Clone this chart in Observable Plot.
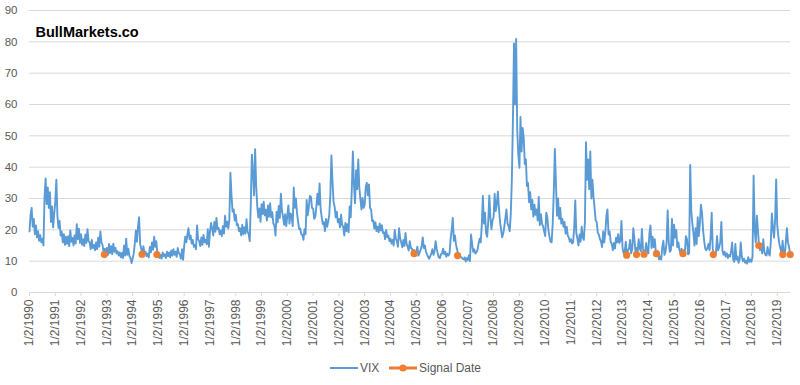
<!DOCTYPE html>
<html>
<head>
<meta charset="utf-8">
<script src="https://cdn.jsdelivr.net/npm/d3@7"></script>
<script src="https://cdn.jsdelivr.net/npm/@observablehq/plot@0.6"></script>
<style>
  body { margin: 0; background: #fff; }
  #chart { width: 800px; }
  svg text { font-family: "Liberation Sans", Arial, sans-serif; }
</style>
</head>
<body>
<div id="chart"></div>
<script>
// VIX, two readings per month (semi-monthly)
const years = d3.range(1990, 2020);
const v1990 = [19.5,24.8, 27.0,21.0, 23.5,18.6, 21.4,17.6, 19.6,16.5, 18.3,16.0, 17.2,15.0, 30.5,36.4, 28.2,33.5, 27.0,32.0, 22.5,27.5, 20.8,25.0];
const v1991 = [28.8,36.0, 24.5,20.6, 22.8,18.2, 19.5,16.0, 18.6,15.2, 17.8,15.5, 18.0,14.8, 19.8,16.2, 17.4,15.0, 18.2,15.6, 21.8,17.0, 20.4,15.8];
const v1992 = [18.6,15.2, 17.0,14.8, 18.5,15.8, 20.2,16.4, 16.0,13.8, 16.8,14.2, 15.2,13.5, 16.0,13.8, 17.5,14.6, 19.5,16.0, 15.2,12.8, 14.0,12.2];
const v1993 = [14.2,12.0, 15.5,12.6, 14.8,12.2, 15.6,13.0, 14.2,12.4, 13.2,11.8, 12.8,11.2, 12.6,11.0, 15.0,11.8, 17.2,12.0, 14.0,11.6, 11.0,9.4];
const v1994 = [10.8,12.4, 15.5,19.8, 16.2,21.0, 24.0,15.4, 14.0,12.2, 14.8,12.6, 13.0,11.6, 12.4,11.2, 14.5,12.8, 16.0,13.6, 17.8,14.6, 16.4,12.6];
const v1995 = [12.4,11.0, 12.0,10.8, 12.8,11.6, 12.2,11.0, 13.0,11.6, 12.8,11.2, 13.4,11.8, 13.8,12.0, 13.0,11.4, 14.2,12.6, 12.2,10.8, 13.8,10.4];
const v1996 = [14.8,17.8, 16.0,18.5, 20.5,17.0, 18.2,15.6, 16.8,14.6, 15.2,13.8, 21.4,17.0, 16.4,14.8, 17.6,15.2, 18.4,16.0, 16.8,15.4, 20.2,14.6];
const v1997 = [19.5,22.2, 20.4,18.2, 22.5,19.4, 23.8,20.2, 20.6,18.6, 19.8,18.0, 21.2,18.8, 24.5,21.0, 22.6,20.4, 23.2,38.2, 31.0,25.8, 26.5,23.0];
const v1998 = [24.8,21.5, 21.8,19.6, 20.5,18.2, 21.6,18.6, 20.8,18.8, 23.4,19.4, 18.6,16.4, 28.5,44.0, 38.5,31.0, 45.7,34.0, 27.5,24.0, 26.8,22.6];
const v1999 = [28.2,25.0, 29.0,24.6, 26.4,23.0, 27.8,24.2, 28.5,24.0, 25.6,22.0, 21.4,18.2, 25.8,22.4, 27.6,23.8, 31.5,26.0, 24.2,21.6, 25.0,21.2];
const v2000 = [24.5,27.8, 22.0,25.2, 24.5,21.2, 33.5,27.0, 30.0,25.4, 22.8,20.2, 20.4,18.6, 18.4,16.8, 20.2,18.6, 29.5,24.6, 27.2,30.8, 30.5,27.0];
const v2001 = [26.8,23.5, 24.2,27.5, 31.5,28.0, 34.8,26.5, 24.0,21.8, 22.4,19.6, 23.5,21.0, 22.6,24.8, 31.0,43.7, 35.5,29.0, 27.4,24.0, 25.8,22.4];
const v2002 = [23.5,20.8, 24.8,21.6, 21.0,18.2, 22.2,19.6, 21.8,19.2, 27.5,24.0, 33.0,45.0, 34.5,28.5, 39.0,33.0, 42.5,33.5, 29.8,26.5, 30.2,27.0];
const v2003 = [28.0,33.5, 35.0,31.0, 34.5,27.0, 26.5,22.8, 23.0,20.4, 22.4,19.6, 21.0,19.2, 22.0,19.8, 21.5,19.0, 19.2,17.0, 20.0,17.6, 18.2,16.4];
const v2004 = [17.2,15.6, 16.8,15.0, 20.0,17.2, 16.4,14.6, 20.5,17.4, 16.0,14.4, 16.8,14.8, 19.0,15.6, 14.6,13.4, 16.4,14.2, 14.0,12.8, 13.6,12.2];
const v2005 = [12.8,14.6, 11.8,12.6, 13.6,14.8, 17.6,14.2, 15.0,13.0, 12.2,11.4, 10.8,11.6, 12.4,13.8, 12.0,13.2, 16.4,14.0, 12.4,11.2, 11.0,12.2];
const v2006 = [12.4,14.0, 12.2,13.0, 11.4,12.4, 11.8,12.6, 17.2,20.0, 23.8,16.5, 18.2,15.2, 13.8,12.0, 12.4,11.4, 11.2,10.8, 10.6,11.2, 9.9,11.0];
const v2007 = [10.4,11.8, 10.0,18.5, 15.5,13.0, 13.8,12.4, 12.8,13.6, 15.6,17.2, 16.0,21.5, 30.8,22.0, 25.5,19.0, 17.8,22.5, 31.0,24.0, 20.2,23.0];
const v2008 = [24.0,31.5, 26.0,28.4, 32.2,26.8, 22.5,20.0, 17.6,18.8, 21.0,23.8, 26.5,22.0, 21.2,19.5, 25.0,36.0, 55.0,79.5, 60.0,80.9, 52.0,44.0];
const v2009 = [39.8,56.0, 45.0,52.5, 49.5,41.0, 42.5,34.0, 35.0,28.8, 32.0,26.5, 29.5,24.2, 28.0,24.8, 26.5,23.0, 30.5,21.5, 25.0,22.0, 21.2,19.5];
const v2010 = [18.0,25.5, 24.0,20.0, 17.8,16.2, 16.0,22.0, 32.0,45.8, 35.0,24.5, 30.0,23.5, 27.0,22.0, 23.5,21.0, 22.5,18.8, 21.0,18.2, 17.5,16.2];
const v2011 = [17.0,15.6, 16.0,20.5, 29.4,19.0, 17.2,15.0, 18.5,16.2, 21.0,17.5, 16.8,22.5, 48.0,36.0, 42.5,33.0, 45.0,30.0, 36.0,30.5, 27.0,23.0];
const v2012 = [22.5,19.0, 18.5,17.0, 16.2,14.5, 19.5,16.0, 19.0,24.5, 26.5,18.5, 19.5,16.2, 15.5,13.5, 15.8,14.0, 17.5,16.0, 18.6,15.8, 16.5,22.8];
const v2013 = [14.2,12.5, 13.0,16.2, 12.0,13.5, 14.0,16.8, 12.5,13.8, 20.5,17.0, 13.0,14.2, 12.8,17.0, 14.0,13.2, 20.3,14.0, 12.2,13.0, 15.8,13.2];
const v2014 = [12.5,18.8, 21.4,14.2, 17.8,14.5, 17.0,13.0, 11.8,12.6, 10.6,11.5, 10.5,14.5, 16.5,12.0, 13.0,16.0, 26.2,16.0, 13.0,13.5, 23.5,15.0];
const v2015 = [21.6,17.5, 20.0,14.5, 16.0,13.5, 12.5,14.0, 12.0,13.5, 13.0,18.0, 17.0,12.2, 12.5,40.7, 26.0,22.0, 19.0,15.0, 20.5,15.5, 24.0,18.0];
const v2016 = [22.0,28.0, 25.5,20.0, 16.5,14.0, 13.5,14.2, 15.5,13.5, 17.5,25.5, 14.0,12.0, 11.5,12.8, 18.0,13.5, 14.5,16.0, 22.5,13.5, 12.0,13.0];
const v2017 = [11.5,12.5, 11.0,12.0, 11.5,13.0, 16.0,10.5, 9.8,15.5, 10.5,11.5, 9.5,10.5, 16.0,11.5, 10.0,10.8, 9.5,10.2, 9.2,11.3, 9.8,10.5];
const v2018 = [9.8,11.5, 37.3,20.0, 16.0,24.5, 20.0,15.0, 13.5,15.5, 12.5,17.0, 13.0,12.0, 11.8,14.5, 12.5,11.8, 16.0,25.2, 20.5,17.5, 23.0,36.1];
const v2019 = [21.5,18.0, 15.5,14.0, 12.5,16.5, 12.5,12.0, 16.0,20.5, 16.0,14.5, 12.5];
const vixByYear = [v1990,v1991,v1992,v1993,v1994,v1995,v1996,v1997,v1998,v1999,v2000,v2001,v2002,v2003,v2004,v2005,v2006,v2007,v2008,v2009,v2010,v2011,v2012,v2013,v2014,v2015,v2016,v2017,v2018,v2019];

// Signal dates
const signalDates = ["1992-11-27","1994-05-15","1994-12-12","2004-12-02","2006-08-10","2013-03-01","2013-07-19","2013-11-02","2014-04-28","2015-05-08","2016-07-10","2018-04-17","2019-03-22","2019-07-05"];
const signalValues = [12.1,12.2,12.1,12.4,11.8,11.9,12.1,12.2,12.4,12.4,12.1,15.0,12.1,12.1];

// Axis ticks
const tickYears = d3.range(1990, 2020);
const yTicks = [0,10,20,30,40,50,60,70,80,90];

const DAY = 864e5;
const vix = [];
years.forEach((y, k) => {
  vixByYear[k].forEach((v, i) => {
    vix.push({date: new Date(Date.UTC(y, 0, 2) + i * (365.25 / 24) * DAY), value: v});
  });
});
const signals = signalDates.map((d, i) => ({date: new Date(d + "T00:00:00Z"), value: signalValues[i]}));
const tickDates = tickYears.map(y => new Date(Date.UTC(y, 0, 2)));

const gray = "#595959";
const plot = Plot.plot({
  width: 800,
  height: 352,
  marginLeft: 29,
  marginRight: 10,
  marginTop: 10,
  marginBottom: 60,
  style: {fontSize: "12px", color: gray, background: "#fff"},
  x: {type: "utc", domain: [new Date(Date.UTC(1990,0,2)), new Date(Date.UTC(2019,6,9))]},
  y: {domain: [0, 90]},
  marks: [
    Plot.gridY(yTicks, {stroke: "#d9d9d9", strokeOpacity: 1, strokeWidth: 1}),
    Plot.ruleY([0], {stroke: "#d9d9d9", strokeWidth: 1}),
    Plot.axisY(yTicks, {tickSize: 0, tickPadding: 12, label: null, fill: gray, fontSize: 11.5}),
    Plot.axisX(tickDates, {tickFormat: d => `1/2/${d.getUTCFullYear()}`, tickRotate: -90, tickSize: 4, tickPadding: 3, stroke: "#d9d9d9", label: null, fill: gray, fontSize: 12}),
    Plot.line(vix, {x: "date", y: "value", stroke: "#5b9bd5", strokeWidth: 1.9, curve: "linear"}),
    Plot.dot(signals, {x: "date", y: "value", fill: "#ed7d31", r: 3.6, stroke: "none"}),
    Plot.text(["BullMarkets.co"], {frameAnchor: "top-left", dx: 6, dy: 16, lineAnchor: "top", textAnchor: "start", fontSize: 14.5, fontWeight: "bold", fill: "#000"})
  ]
});
document.getElementById("chart").appendChild(plot);

// Legend below the chart
const legend = d3.create("svg").attr("width", 800).attr("height", 33)
  .style("display", "block")
  .style("font-family", "'Liberation Sans', Arial, sans-serif");
const ly = 16;
legend.append("line").attr("x1", 330).attr("x2", 358).attr("y1", ly).attr("y2", ly)
  .attr("stroke", "#5b9bd5").attr("stroke-width", 2);
legend.append("text").attr("x", 360).attr("y", ly).attr("dy", "0.35em")
  .attr("font-size", 12).attr("fill", gray).text("VIX");
legend.append("line").attr("x1", 389).attr("x2", 417).attr("y1", ly).attr("y2", ly)
  .attr("stroke", "#ed7d31").attr("stroke-width", 3);
legend.append("circle").attr("cx", 403).attr("cy", ly).attr("r", 3.6).attr("fill", "#ed7d31");
legend.append("text").attr("x", 419).attr("y", ly).attr("dy", "0.35em")
  .attr("font-size", 12).attr("fill", gray).text("Signal Date");
document.getElementById("chart").appendChild(legend.node());
</script>
</body>
</html>
